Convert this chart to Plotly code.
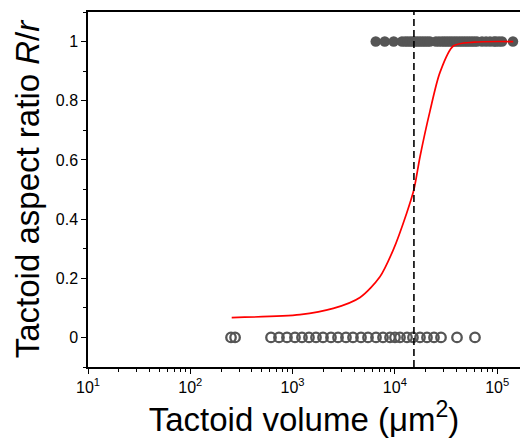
import plotly.graph_objects as go

# Filled points (aspect ratio 1)
x_high = [6500, 7960, 9730, 11720, 12550, 13270, 14070, 14860, 15740, 16630, 17600,
          18620, 19680, 20840, 22010, 25200, 26990, 28860, 30550, 32300, 34200, 36130,
          38280, 40420, 42800, 45270, 47900, 50660, 53600, 56740, 60000, 63450, 71000,
          77800, 85100, 93100, 97300, 104300, 111400, 142600]
y_high = [1] * len(x_high)

# Open points (aspect ratio 0)
x_low = [250, 274, 615, 736, 881, 1055, 1235, 1446, 1693, 1983, 2373, 2780, 3325,
         3893, 4663, 5459, 6537, 7651, 8958, 10020, 11220, 13130, 15020, 17590,
         20590, 24110, 28240, 40470, 60670]
y_low = [0] * len(x_low)

# Fitted curve
x_fit = [254, 1180, 2500, 4560, 7140, 9640, 13030, 15350, 17580, 22030, 27540,
         37240, 58900, 143600]
y_fit = [0.067, 0.077, 0.098, 0.135, 0.205, 0.296, 0.42, 0.5, 0.61, 0.765,
         0.895, 0.985, 0.998, 1.0]

x_threshold = 15350

x_tickvals = [10, 100, 1000, 10000, 100000]
x_ticktext = ["10<sup>1</sup>", "10<sup>2</sup>", "10<sup>3</sup>", "10<sup>4</sup>", "10<sup>5</sup>"]
y_tickvals = [0, 0.2, 0.4, 0.6, 0.8, 1.0]
y_ticktext = ["0", "0.2", "0.4", "0.6", "0.8", "1"]

grey = "#555555"
font = "Liberation Sans, Arial, sans-serif"

fig = go.Figure()
fig.add_trace(go.Scatter(x=x_high, y=y_high, mode="markers",
                         marker=dict(size=10.5, color=grey, line=dict(width=0))))
fig.add_trace(go.Scatter(x=x_low, y=y_low, mode="markers",
                         marker=dict(size=9.5, color=grey, symbol="circle-open",
                                     line=dict(width=2.3, color=grey))))
fig.add_trace(go.Scatter(x=x_fit, y=y_fit, mode="lines",
                         line=dict(color="red", width=1.7, shape="spline", smoothing=0.8),
                         hoverinfo="skip"))
fig.add_shape(type="line", x0=x_threshold, x1=x_threshold, xref="x", y0=0, y1=1, yref="paper",
              line=dict(color="black", width=1.6, dash="7px,4px"))

fig.update_layout(
    width=520, height=446,
    margin=dict(l=88, r=0, t=12, b=79, autoexpand=False),
    paper_bgcolor="white", plot_bgcolor="white",
    showlegend=False,
    font=dict(family=font, color="black", size=16),
)
fig.update_xaxes(type="log", range=[1, 5.223], showline=True, linecolor="black", linewidth=1.5,
                 mirror=True, showgrid=False, zeroline=False, automargin=False,
                 ticks="outside", ticklen=5, tickwidth=1.2, tickcolor="black",
                 tickvals=x_tickvals, ticktext=x_ticktext, tickfont=dict(size=16),
                 minor=dict(ticks="outside", ticklen=3, tickwidth=1, tickcolor="black",
                            dtick="D1", showgrid=False),
                 title=dict(text="Tactoid volume (μm<sup>2</sup>)", font=dict(size=33), standoff=4))
fig.update_yaxes(range=[-0.1, 1.1], showline=True, linecolor="black", linewidth=1.5,
                 mirror=False, showgrid=False, zeroline=False, automargin=False,
                 ticks="outside", ticklen=5, tickwidth=1.2, tickcolor="black",
                 tickvals=y_tickvals, ticktext=y_ticktext, tickfont=dict(size=16),
                 minor=dict(ticks="outside", ticklen=3, tickwidth=1, tickcolor="black",
                            dtick=0.1, tick0=0, showgrid=False),
                 title=dict(text="Tactoid aspect ratio <i>R</i>/<i>r</i>", font=dict(size=33), standoff=6))

fig.write_html("out.html", config={"displayModeBar": False},
               post_script="document.body.style.margin='0px';document.body.style.padding='0px';")
